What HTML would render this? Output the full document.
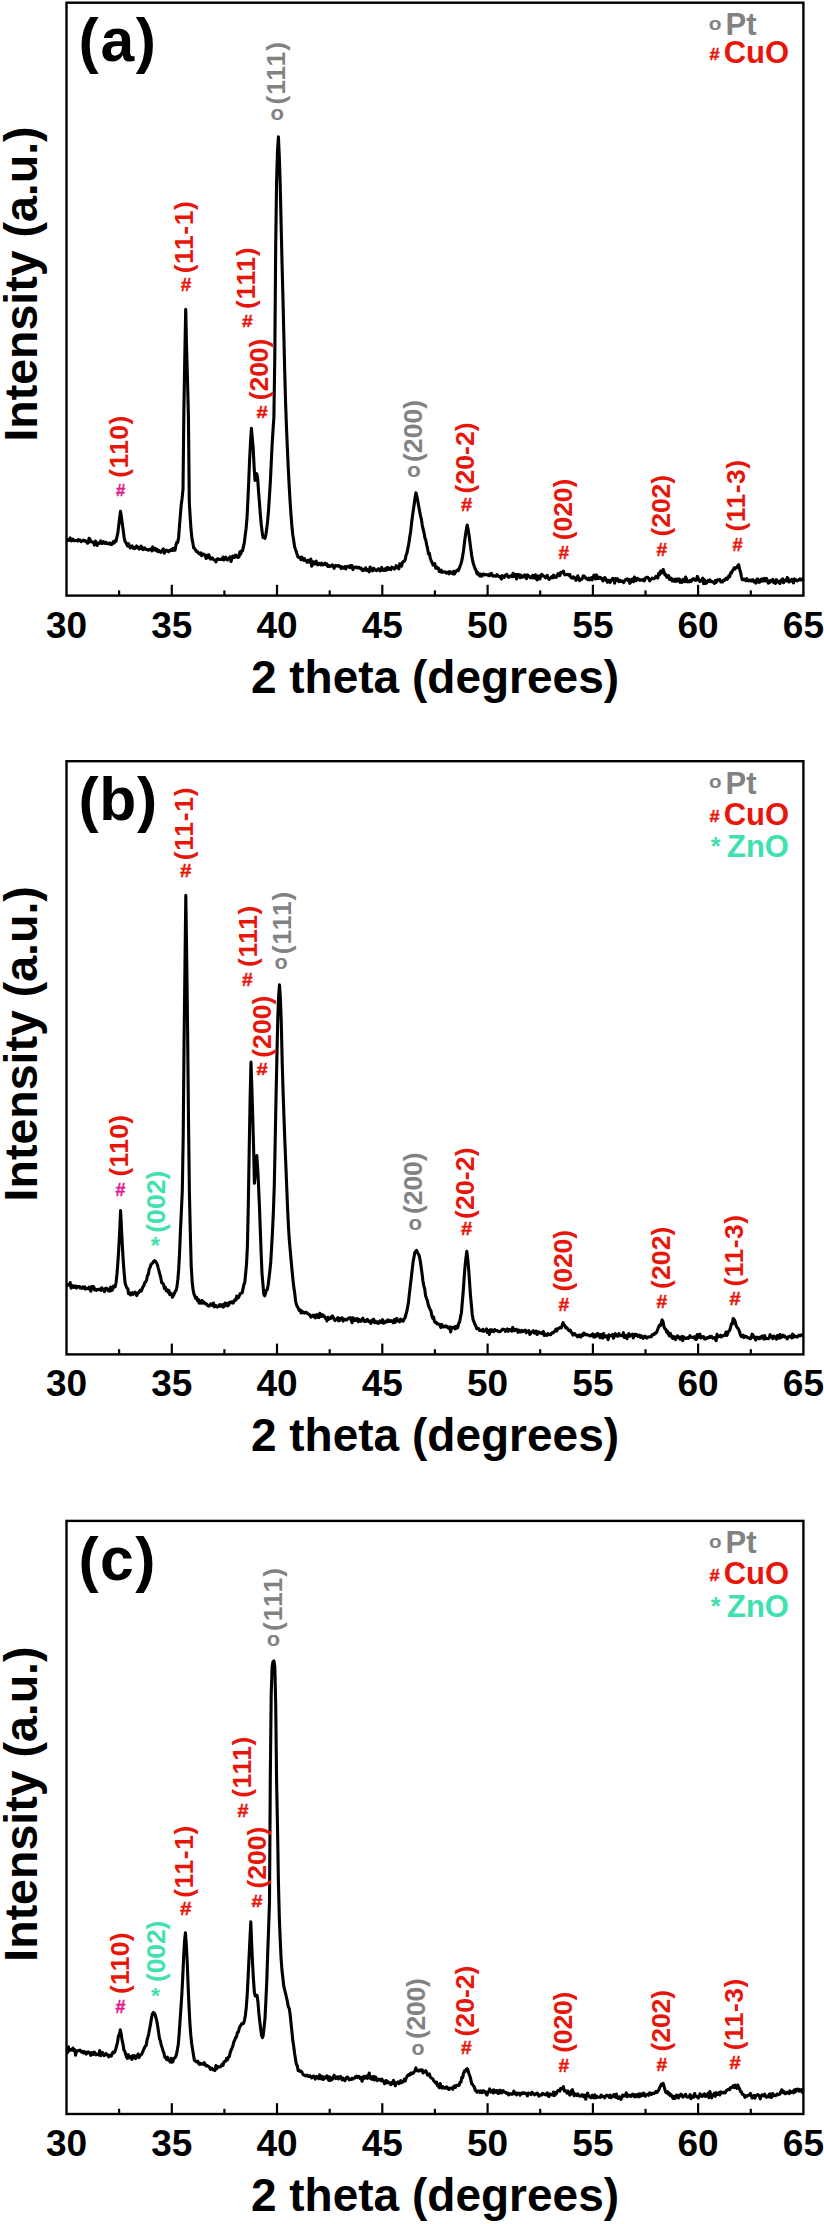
<!DOCTYPE html>
<html><head><meta charset="utf-8"><title>XRD patterns</title>
<style>
html,body{margin:0;padding:0;background:#fff;}
svg{display:block;}
text{font-family:'Liberation Sans', sans-serif;font-weight:bold;}
</style></head><body>
<svg width="824" height="2224" viewBox="0 0 824 2224">
<rect width="824" height="2224" fill="#fff"/>
<path d="M67.5,539.7 68.4,540.5 69.3,539.9 70.2,537.9 71.1,540.9 72.0,540.4 72.9,539.2 73.8,540.8 74.7,540.6 75.6,540.6 76.5,540.4 77.4,541.1 78.3,539.6 79.2,540.4 80.1,540.1 81.0,541.6 81.9,541.0 82.8,540.7 83.7,540.1 84.6,540.9 85.5,541.4 86.4,541.1 87.3,543.2 88.2,543.0 89.1,538.3 90.0,539.5 90.9,541.8 91.8,541.6 92.7,542.5 93.6,542.6 94.4,545.1 95.3,541.1 96.2,542.1 97.1,545.4 98.0,543.7 98.9,543.8 99.8,542.3 100.7,540.9 101.6,543.4 102.5,543.4 103.4,541.7 104.3,542.5 105.2,543.4 106.1,542.3 107.0,543.5 107.9,543.8 108.8,543.7 109.7,543.0 110.6,544.4 111.5,544.6 112.4,543.6 113.3,541.7 114.2,543.0 115.1,540.7 116.0,541.3 116.9,537.2 117.8,533.1 118.7,525.7 119.6,518.1 120.5,511.3 121.4,517.3 122.3,523.7 123.2,530.1 124.1,537.2 125.0,541.4 125.9,542.6 126.8,544.6 127.6,546.0 128.5,543.6 129.4,546.3 130.3,547.9 131.2,546.3 132.1,545.9 133.0,548.1 133.9,547.6 134.8,548.6 135.7,547.2 136.6,545.9 137.5,547.8 138.4,547.4 139.3,549.1 140.1,548.5 141.0,546.2 141.9,546.9 142.8,549.6 143.7,549.5 144.6,547.9 145.5,548.8 146.4,549.4 147.3,549.6 148.2,550.2 149.1,549.5 150.0,549.2 150.9,549.1 151.8,550.9 152.7,546.8 153.5,549.7 154.4,550.0 155.3,548.3 156.2,550.7 157.1,549.5 158.0,551.6 158.9,550.4 159.8,551.6 160.7,552.4 161.6,551.4 162.5,549.8 163.4,549.0 164.3,553.3 165.2,550.9 166.1,550.1 166.9,551.1 167.8,550.6 168.7,551.8 169.6,550.6 170.5,550.4 171.4,549.3 172.3,550.6 173.2,548.4 174.1,550.2 175.0,550.1 175.9,545.3 176.8,542.3 177.7,542.4 178.6,537.7 179.4,527.0 180.3,516.0 181.2,505.0 182.1,498.4 183.0,489.4 183.9,409.6 184.8,356.6 185.7,309.2 186.6,348.6 187.5,380.3 188.4,415.5 189.3,501.6 190.1,516.2 191.0,529.1 191.9,538.1 192.8,542.7 193.7,547.9 194.6,548.5 195.5,549.9 196.4,551.6 197.2,551.4 198.1,552.3 199.0,553.7 199.9,554.1 200.8,552.8 201.7,555.7 202.6,554.3 203.5,554.1 204.3,554.6 205.2,555.6 206.1,558.5 207.0,555.3 207.9,557.3 208.8,554.8 209.7,557.8 210.6,559.2 211.4,558.1 212.3,557.9 213.2,559.2 214.1,560.0 215.0,560.1 215.9,561.9 216.8,559.8 217.7,558.7 218.6,559.3 219.4,559.4 220.3,559.5 221.2,559.3 222.1,559.4 223.0,557.0 223.9,560.1 224.8,558.1 225.7,557.2 226.5,559.4 227.4,560.1 228.3,558.9 229.2,558.3 230.1,556.8 231.0,561.5 231.9,558.8 232.8,556.1 233.6,556.4 234.5,557.3 235.4,555.0 236.3,556.9 237.2,555.8 238.1,557.5 239.0,556.8 239.9,551.9 240.7,554.2 241.6,550.7 242.5,550.8 243.4,546.7 244.3,542.9 245.2,535.2 246.1,528.4 247.0,517.9 247.8,502.4 248.7,482.2 249.6,459.7 250.5,442.7 251.4,428.4 252.3,438.3 253.2,448.2 254.1,466.7 255.0,480.4 255.9,477.1 256.8,473.7 257.7,478.6 258.6,492.3 259.5,503.3 260.4,515.4 261.3,524.9 262.2,532.3 263.1,537.4 264.0,537.1 264.9,538.4 265.8,535.1 266.7,529.1 267.6,521.2 268.5,510.8 269.4,496.8 270.3,482.5 271.2,464.0 272.1,445.2 273.0,430.1 273.9,417.3 274.8,355.8 275.7,245.8 276.6,181.3 277.5,150.6 278.4,136.9 279.3,156.6 280.2,183.7 281.1,223.4 282.0,261.7 282.9,295.9 283.8,333.1 284.7,370.6 285.6,403.3 286.5,427.6 287.4,448.7 288.3,468.8 289.2,486.1 290.1,501.5 291.0,514.7 291.9,526.5 292.8,534.9 293.7,540.6 294.6,546.8 295.5,549.5 296.4,551.9 297.3,555.2 298.2,557.3 299.1,557.5 300.0,557.3 300.9,559.7 301.8,557.2 302.7,558.5 303.6,560.2 304.5,558.7 305.4,560.7 306.3,560.9 307.2,562.3 308.1,560.3 309.0,560.9 309.9,562.3 310.8,559.0 311.7,566.3 312.6,561.7 313.5,561.8 314.4,564.1 315.3,563.1 316.2,561.1 317.1,564.3 318.0,564.8 318.9,563.3 319.8,563.6 320.7,564.8 321.6,563.1 322.5,565.0 323.4,564.8 324.3,563.8 325.2,563.1 326.0,564.7 326.9,564.0 327.8,566.5 328.7,565.5 329.6,566.5 330.5,565.7 331.4,566.0 332.3,564.8 333.2,566.8 334.1,568.3 335.0,565.7 335.9,565.4 336.8,566.1 337.7,565.8 338.6,565.6 339.5,566.7 340.4,566.3 341.3,568.6 342.2,566.8 343.1,567.3 344.0,568.2 344.9,566.7 345.8,569.0 346.7,566.4 347.6,566.2 348.5,566.9 349.4,567.3 350.3,565.7 351.2,567.6 352.1,565.6 353.0,569.6 353.9,567.8 354.8,567.2 355.7,566.9 356.6,567.7 357.5,568.0 358.4,567.1 359.3,567.4 360.2,568.5 361.1,568.2 362.0,570.2 362.9,570.6 363.8,569.3 364.7,570.0 365.6,567.8 366.5,570.4 367.4,569.7 368.3,570.4 369.2,571.9 370.1,567.0 371.0,570.3 371.9,568.6 372.8,570.8 373.7,568.3 374.6,569.3 375.5,570.2 376.4,570.7 377.3,570.0 378.2,568.8 379.1,569.0 380.0,570.8 380.9,569.6 381.8,567.4 382.7,570.5 383.6,569.9 384.5,570.4 385.4,568.7 386.3,570.1 387.2,567.5 388.1,569.5 389.0,568.0 389.9,569.3 390.8,569.6 391.7,567.2 392.6,567.9 393.5,567.9 394.4,569.1 395.3,568.3 396.2,565.7 397.1,567.5 398.0,567.5 398.9,568.8 399.8,563.7 400.7,564.6 401.6,566.1 402.5,562.3 403.4,561.4 404.3,561.4 405.2,559.5 406.1,555.1 407.0,552.9 407.9,548.1 408.8,543.9 409.7,537.2 410.6,531.9 411.5,523.6 412.4,516.8 413.3,510.2 414.2,504.3 415.1,497.4 416.0,492.9 416.9,496.3 417.8,501.1 418.7,506.2 419.6,511.0 420.4,515.5 421.3,518.8 422.2,524.8 423.1,529.2 424.0,532.4 424.9,537.9 425.8,540.2 426.7,544.9 427.6,548.6 428.5,554.0 429.4,553.4 430.3,558.1 431.2,560.9 432.1,562.4 433.0,565.1 433.9,564.1 434.8,563.7 435.7,568.2 436.6,566.8 437.5,568.6 438.4,568.2 439.3,571.5 440.2,571.7 441.1,570.1 442.0,572.4 442.9,571.8 443.8,571.7 444.7,572.2 445.6,572.1 446.5,573.2 447.4,572.9 448.3,572.0 449.2,573.8 450.1,571.6 451.0,572.7 451.9,572.7 452.8,573.9 453.7,571.3 454.6,573.9 455.5,571.7 456.4,571.0 457.3,570.0 458.2,570.7 459.1,568.9 460.0,566.3 460.9,564.0 461.8,560.6 462.7,555.8 463.6,549.9 464.5,542.2 465.4,535.5 466.3,529.8 467.2,525.0 468.1,529.3 469.0,535.0 469.9,541.8 470.8,548.9 471.7,555.5 472.6,560.5 473.5,564.0 474.4,566.7 475.3,569.1 476.2,570.8 477.1,573.8 478.0,572.7 478.9,575.0 479.8,575.9 480.7,574.1 481.6,576.2 482.5,575.2 483.4,573.9 484.3,574.9 485.2,574.8 486.1,574.5 487.0,574.7 487.9,575.2 488.8,575.7 489.7,574.0 490.6,575.2 491.5,573.3 492.4,575.7 493.3,576.2 494.2,575.7 495.1,575.9 496.0,576.3 496.9,574.7 497.8,575.3 498.7,576.3 499.6,577.0 500.5,576.3 501.4,579.1 502.3,575.7 503.2,577.1 504.1,577.5 505.0,575.7 505.9,574.9 506.8,574.4 507.7,576.2 508.6,577.4 509.4,576.4 510.3,576.3 511.2,575.6 512.1,576.8 513.0,573.3 513.9,576.4 514.8,576.2 515.7,574.4 516.6,579.0 517.5,574.4 518.4,574.9 519.3,574.7 520.2,577.7 521.1,575.2 522.0,577.2 522.9,577.2 523.8,576.8 524.7,574.8 525.6,575.7 526.5,578.7 527.4,574.9 528.3,575.5 529.2,576.4 530.1,577.7 531.0,577.0 531.9,577.7 532.8,575.4 533.7,578.0 534.6,577.6 535.5,574.8 536.4,578.9 537.3,579.9 538.2,575.9 539.1,577.0 540.0,578.8 540.9,575.0 541.8,574.4 542.7,575.3 543.6,576.3 544.5,576.2 545.4,577.8 546.3,577.3 547.2,575.3 548.1,577.7 549.0,579.3 549.9,578.4 550.8,578.0 551.7,576.7 552.6,577.8 553.5,575.2 554.4,577.3 555.3,576.1 556.2,577.4 557.1,576.1 558.0,573.7 558.9,574.6 559.8,575.6 560.7,572.4 561.6,572.7 562.5,572.2 563.4,571.1 564.3,574.3 565.2,574.9 566.1,574.6 567.0,574.4 567.9,574.5 568.8,575.3 569.7,574.5 570.6,577.0 571.5,577.8 572.4,578.2 573.3,576.8 574.2,577.9 575.1,577.8 576.0,580.4 576.9,578.4 577.8,575.8 578.7,578.8 579.6,580.7 580.5,579.2 581.4,579.5 582.3,578.5 583.2,575.9 584.1,576.1 585.0,576.9 585.9,578.3 586.8,578.9 587.7,579.5 588.6,578.1 589.5,579.8 590.4,578.3 591.3,577.7 592.2,579.8 593.0,577.5 593.9,575.2 594.8,577.4 595.7,579.0 596.6,574.9 597.5,578.5 598.4,578.6 599.3,577.2 600.2,577.2 601.1,578.6 602.0,578.6 602.9,581.0 603.8,580.0 604.7,577.5 605.6,578.5 606.5,580.6 607.4,582.2 608.3,580.4 609.2,580.4 610.1,582.4 611.0,580.1 611.9,579.8 612.8,578.4 613.7,579.6 614.6,583.2 615.5,578.6 616.4,580.4 617.3,578.6 618.2,580.6 619.1,581.6 620.0,580.2 620.9,581.4 621.8,581.4 622.7,581.0 623.6,582.6 624.5,581.3 625.4,579.8 626.3,579.2 627.2,578.9 628.1,580.6 629.0,579.4 629.9,583.3 630.8,582.1 631.7,579.3 632.6,579.1 633.5,581.7 634.4,577.1 635.3,578.9 636.2,580.7 637.1,578.3 638.0,578.9 638.9,579.0 639.8,580.4 640.7,579.7 641.6,580.0 642.5,580.3 643.4,579.5 644.3,580.9 645.2,578.6 646.1,577.6 647.0,577.2 647.9,577.4 648.8,578.8 649.7,580.8 650.6,579.7 651.5,578.7 652.4,578.1 653.3,578.7 654.2,578.6 655.1,577.9 656.0,576.3 656.9,576.9 657.8,578.0 658.7,573.4 659.6,574.5 660.5,571.2 661.4,573.2 662.3,571.5 663.2,569.5 664.1,572.2 665.0,575.0 665.9,574.7 666.8,577.3 667.7,576.9 668.6,575.6 669.5,579.5 670.4,579.2 671.3,578.1 672.2,581.1 673.1,580.5 674.0,579.5 674.9,581.3 675.8,579.1 676.7,581.1 677.5,579.1 678.4,581.0 679.3,578.9 680.2,582.3 681.1,580.7 682.0,582.3 682.9,579.4 683.8,579.8 684.7,581.6 685.6,577.0 686.5,579.2 687.4,581.9 688.3,581.2 689.2,581.9 690.1,580.3 691.0,581.5 691.9,579.8 692.8,579.0 693.7,578.7 694.6,580.2 695.5,580.2 696.4,580.1 697.3,576.4 698.2,578.4 699.1,580.4 700.0,581.5 700.9,580.4 701.8,580.0 702.7,578.2 703.6,583.8 704.5,579.8 705.4,583.4 706.3,583.3 707.2,581.6 708.1,580.5 709.0,581.5 709.9,579.8 710.8,581.6 711.7,581.3 712.6,582.0 713.5,582.5 714.4,583.4 715.3,580.6 716.2,582.4 717.1,580.0 718.0,579.8 718.9,580.1 719.8,579.5 720.7,581.9 721.6,581.7 722.5,582.0 723.4,580.2 724.3,580.5 725.2,579.2 726.1,578.2 727.0,579.4 727.9,578.3 728.8,575.8 729.7,576.7 730.6,572.9 731.5,573.0 732.4,570.9 733.3,569.6 734.2,567.8 735.1,569.0 736.0,567.6 736.9,567.5 737.8,565.8 738.7,564.7 739.6,569.3 740.5,571.9 741.4,576.6 742.3,579.8 743.2,579.7 744.1,579.1 745.0,579.7 745.9,580.7 746.8,578.7 747.7,580.8 748.6,580.9 749.5,580.0 750.4,580.2 751.3,581.0 752.2,579.8 753.1,579.8 754.0,581.9 754.9,581.2 755.8,583.2 756.7,579.7 757.6,578.8 758.5,582.3 759.4,582.3 760.3,580.2 761.1,579.2 762.0,581.1 762.9,578.9 763.8,580.8 764.7,578.4 765.6,580.9 766.5,578.5 767.4,580.9 768.3,583.2 769.2,580.9 770.1,582.3 771.0,580.4 771.9,580.1 772.8,579.3 773.7,582.6 774.6,581.2 775.5,583.3 776.4,579.7 777.3,580.9 778.2,581.3 779.1,583.0 780.0,583.5 780.9,580.3 781.8,579.6 782.7,578.8 783.6,582.8 784.5,580.9 785.4,580.1 786.3,580.9 787.2,577.6 788.1,578.6 789.0,582.0 789.9,581.3 790.8,580.9 791.7,579.4 792.6,581.4 793.5,582.9 794.4,578.9 795.3,580.5 796.2,579.8 797.1,580.8 798.0,580.3 798.9,580.0 799.8,579.0 800.7,580.1 801.6,579.2 802.5,579.7" fill="none" stroke="#000" stroke-width="3.1" stroke-linejoin="round" stroke-linecap="round"/>
<rect x="66.5" y="2.7" width="736.9" height="592.9" fill="none" stroke="#000" stroke-width="2.4"/>
<line x1="171.8" y1="595.6" x2="171.8" y2="584.8" stroke="#000" stroke-width="2.2"/>
<line x1="277.0" y1="595.6" x2="277.0" y2="584.8" stroke="#000" stroke-width="2.2"/>
<line x1="382.3" y1="595.6" x2="382.3" y2="584.8" stroke="#000" stroke-width="2.2"/>
<line x1="487.6" y1="595.6" x2="487.6" y2="584.8" stroke="#000" stroke-width="2.2"/>
<line x1="592.9" y1="595.6" x2="592.9" y2="584.8" stroke="#000" stroke-width="2.2"/>
<line x1="698.1" y1="595.6" x2="698.1" y2="584.8" stroke="#000" stroke-width="2.2"/>
<line x1="119.1" y1="595.6" x2="119.1" y2="590.4" stroke="#000" stroke-width="2.2"/>
<line x1="224.4" y1="595.6" x2="224.4" y2="590.4" stroke="#000" stroke-width="2.2"/>
<line x1="329.7" y1="595.6" x2="329.7" y2="590.4" stroke="#000" stroke-width="2.2"/>
<line x1="434.9" y1="595.6" x2="434.9" y2="590.4" stroke="#000" stroke-width="2.2"/>
<line x1="540.2" y1="595.6" x2="540.2" y2="590.4" stroke="#000" stroke-width="2.2"/>
<line x1="645.5" y1="595.6" x2="645.5" y2="590.4" stroke="#000" stroke-width="2.2"/>
<line x1="750.8" y1="595.6" x2="750.8" y2="590.4" stroke="#000" stroke-width="2.2"/>
<text x="66.5" y="637.8" font-size="37" text-anchor="middle">30</text>
<text x="171.8" y="637.8" font-size="37" text-anchor="middle">35</text>
<text x="277.0" y="637.8" font-size="37" text-anchor="middle">40</text>
<text x="382.3" y="637.8" font-size="37" text-anchor="middle">45</text>
<text x="487.6" y="637.8" font-size="37" text-anchor="middle">50</text>
<text x="592.9" y="637.8" font-size="37" text-anchor="middle">55</text>
<text x="698.1" y="637.8" font-size="37" text-anchor="middle">60</text>
<text x="803.4" y="637.8" font-size="37" text-anchor="middle">65</text>
<text x="435" y="693.0" font-size="46" text-anchor="middle">2 theta (degrees)</text>
<text transform="translate(37,284.0) rotate(-90)" font-size="46.5" text-anchor="middle">Intensity (a.u.)</text>
<text x="78.5" y="61.2" font-size="60.6" letter-spacing="1.7">(a)</text>
<text transform="translate(708.7,29.6) scale(1.129,1)" font-size="18.5" fill="#828282">o</text>
<text x="725.5" y="35.0" font-size="31" fill="#828282">Pt</text>
<text transform="translate(709.6,60.4) scale(1.081,1)" font-size="16.7" fill="#e8150a" stroke="#e8150a" stroke-width="0.4">#</text>
<text x="723.7" y="62.9" font-size="31" fill="#e8150a">CuO</text>
<text transform="translate(128.0,477.8) rotate(-90)" font-size="26.5" textLength="62.2" lengthAdjust="spacing" fill="#e8150a">(110)</text>
<text transform="translate(116.0,495.7) scale(1.019,1)" font-size="16.4" fill="#e3198c" stroke="#e3198c" stroke-width="0.4">#</text>
<text transform="translate(193.2,273.3) rotate(-90)" font-size="26.5" textLength="72.2" lengthAdjust="spacing" fill="#e8150a">(11-1)</text>
<text transform="translate(180.7,291.0) scale(1.046,1)" font-size="18.2" fill="#e8150a" stroke="#e8150a" stroke-width="0.4">#</text>
<text transform="translate(255.4,309.0) rotate(-90)" font-size="26.5" textLength="61.6" lengthAdjust="spacing" fill="#e8150a">(111)</text>
<text transform="translate(242.1,326.7) scale(1.120,1)" font-size="17.2" fill="#e8150a" stroke="#e8150a" stroke-width="0.4">#</text>
<text transform="translate(268.4,400.3) rotate(-90)" font-size="26.5" textLength="61.7" lengthAdjust="spacing" fill="#e8150a">(200)</text>
<text transform="translate(256.6,418.0) scale(1.176,1)" font-size="17.2" fill="#e8150a" stroke="#e8150a" stroke-width="0.4">#</text>
<text transform="translate(284.8,104.6) rotate(-90)" font-size="26.5" textLength="62.7" lengthAdjust="spacing" fill="#828282">(111)</text>
<text transform="translate(270.6,119.9) scale(1.056,1)" font-size="20.9" fill="#828282">o</text>
<text transform="translate(421.6,462.0) rotate(-90)" font-size="26.5" textLength="62.1" lengthAdjust="spacing" fill="#828282">(200)</text>
<text transform="translate(407.1,476.8) scale(1.083,1)" font-size="20.9" fill="#828282">o</text>
<text transform="translate(474.4,493.5) rotate(-90)" font-size="26.5" textLength="71.1" lengthAdjust="spacing" fill="#e8150a">(20-2)</text>
<text transform="translate(460.9,510.7) scale(1.156,1)" font-size="17.5" fill="#e8150a" stroke="#e8150a" stroke-width="0.4">#</text>
<text transform="translate(572.0,540.3) rotate(-90)" font-size="26.5" textLength="61.7" lengthAdjust="spacing" fill="#e8150a">(020)</text>
<text transform="translate(558.4,559.0) scale(1.092,1)" font-size="17.6" fill="#e8150a" stroke="#e8150a" stroke-width="0.4">#</text>
<text transform="translate(670.0,536.5) rotate(-90)" font-size="26.5" textLength="61.6" lengthAdjust="spacing" fill="#e8150a">(202)</text>
<text transform="translate(656.6,555.7) scale(1.101,1)" font-size="17.5" fill="#e8150a" stroke="#e8150a" stroke-width="0.4">#</text>
<text transform="translate(745.0,531.5) rotate(-90)" font-size="26.5" textLength="71.6" lengthAdjust="spacing" fill="#e8150a">(11-3)</text>
<text transform="translate(732.6,550.7) scale(1.046,1)" font-size="17.5" fill="#e8150a" stroke="#e8150a" stroke-width="0.4">#</text>
<path d="M67.5,1285.2 68.4,1284.5 69.3,1284.9 70.2,1282.5 71.1,1288.1 72.0,1287.4 72.9,1285.7 73.8,1287.3 74.7,1286.8 75.6,1286.0 76.5,1288.1 77.4,1286.6 78.3,1286.7 79.2,1286.3 80.1,1288.0 81.0,1287.4 81.9,1288.4 82.8,1287.0 83.7,1288.0 84.6,1286.8 85.5,1289.1 86.4,1288.4 87.3,1288.6 88.2,1288.8 89.1,1287.1 90.0,1289.5 90.9,1291.2 91.8,1286.5 92.7,1286.5 93.6,1286.8 94.5,1289.9 95.4,1289.1 96.3,1290.3 97.2,1289.9 98.1,1289.3 99.0,1289.5 99.9,1289.0 100.8,1290.4 101.7,1287.8 102.6,1288.8 103.5,1289.7 104.4,1291.7 105.3,1288.4 106.2,1288.1 107.1,1288.7 108.0,1290.7 108.9,1289.2 109.8,1291.2 110.7,1287.1 111.6,1290.5 112.5,1289.8 113.4,1286.2 114.3,1287.0 115.2,1286.7 116.1,1282.2 117.0,1273.5 117.9,1262.4 118.8,1248.0 119.7,1230.9 120.6,1210.5 121.5,1229.3 122.4,1246.3 123.3,1261.9 124.2,1273.5 125.1,1283.0 126.0,1285.8 126.9,1287.9 127.8,1288.8 128.6,1293.8 129.5,1292.9 130.4,1295.0 131.3,1293.3 132.2,1292.6 133.1,1294.3 134.0,1293.7 134.9,1292.2 135.8,1292.6 136.7,1295.6 137.6,1293.4 138.5,1292.9 139.4,1291.4 140.3,1290.1 141.2,1291.2 142.1,1289.0 142.9,1286.9 143.8,1285.7 144.7,1282.9 145.6,1281.9 146.5,1280.5 147.4,1275.7 148.3,1274.4 149.2,1269.2 150.1,1267.3 151.0,1264.5 151.9,1263.7 152.8,1262.7 153.7,1261.3 154.6,1260.6 155.5,1261.4 156.4,1262.9 157.2,1264.1 158.1,1267.6 159.0,1270.8 159.9,1274.5 160.8,1277.7 161.7,1282.6 162.6,1283.1 163.5,1284.3 164.4,1288.5 165.3,1287.1 166.2,1290.7 167.1,1289.7 168.0,1292.2 168.9,1290.4 169.8,1294.6 170.7,1294.1 171.5,1293.6 172.4,1297.2 173.3,1295.7 174.2,1293.9 175.1,1291.7 176.0,1290.6 176.9,1287.1 177.8,1279.9 178.7,1269.2 179.6,1252.2 180.5,1229.9 181.4,1210.7 182.3,1190.7 183.2,1136.5 184.1,1038.4 185.0,963.0 185.8,895.3 186.7,957.6 187.6,1029.5 188.5,1120.2 189.4,1192.7 190.3,1231.6 191.2,1265.5 192.1,1280.8 193.0,1289.4 193.9,1293.8 194.8,1295.9 195.7,1298.4 196.6,1297.3 197.5,1300.6 198.3,1299.4 199.2,1303.1 200.1,1301.1 201.0,1303.2 201.9,1300.5 202.8,1303.2 203.7,1301.9 204.6,1302.8 205.5,1303.9 206.4,1303.8 207.3,1304.9 208.2,1305.9 209.1,1306.1 209.9,1305.4 210.8,1303.9 211.7,1304.7 212.6,1305.5 213.5,1303.0 214.4,1306.8 215.3,1305.5 216.2,1305.5 217.1,1307.0 218.0,1306.7 218.9,1306.1 219.8,1304.5 220.7,1306.2 221.5,1306.3 222.4,1304.7 223.3,1307.1 224.2,1306.3 225.1,1303.0 226.0,1305.3 226.9,1303.3 227.8,1305.9 228.7,1305.0 229.6,1302.2 230.5,1302.0 231.4,1302.6 232.3,1301.6 233.2,1303.1 234.0,1301.6 234.9,1299.7 235.8,1300.1 236.7,1296.2 237.6,1298.1 238.5,1297.7 239.4,1295.4 240.3,1293.5 241.2,1293.3 242.1,1292.9 243.0,1288.8 243.9,1284.5 244.8,1282.5 245.6,1274.0 246.5,1264.3 247.4,1246.5 248.3,1205.4 249.2,1150.2 250.1,1099.6 251.0,1062.0 251.8,1086.9 252.7,1115.4 253.6,1147.6 254.4,1183.3 255.2,1174.1 256.0,1164.9 256.8,1155.6 257.7,1168.7 258.5,1184.9 259.4,1205.1 260.3,1229.7 261.2,1254.3 262.0,1273.7 262.9,1283.8 263.8,1294.2 264.7,1295.8 265.5,1293.4 266.4,1289.9 267.3,1289.6 268.1,1285.2 269.0,1278.4 269.9,1270.3 270.8,1261.4 271.6,1247.4 272.5,1231.0 273.4,1211.4 274.3,1185.1 275.1,1145.8 276.0,1099.2 276.9,1056.9 277.8,1017.7 278.6,996.7 279.5,984.9 280.4,998.8 281.3,1023.1 282.2,1062.3 283.1,1092.0 284.0,1118.1 284.9,1142.3 285.8,1164.3 286.7,1186.4 287.6,1208.8 288.5,1227.5 289.4,1241.0 290.3,1251.2 291.2,1261.3 292.0,1269.8 292.9,1279.3 293.8,1287.1 294.7,1293.1 295.6,1301.0 296.5,1305.0 297.4,1306.6 298.3,1308.3 299.2,1310.5 300.1,1309.9 301.0,1312.9 301.9,1311.2 302.8,1312.7 303.7,1312.2 304.6,1313.2 305.5,1312.4 306.4,1312.3 307.3,1313.3 308.2,1313.8 309.1,1314.5 310.0,1315.1 310.9,1317.1 311.8,1316.4 312.7,1315.2 313.6,1316.6 314.5,1315.0 315.3,1317.9 316.2,1316.9 317.1,1314.6 318.0,1317.4 318.9,1317.6 319.8,1313.3 320.7,1315.9 321.6,1316.4 322.5,1314.6 323.4,1315.9 324.3,1316.1 325.2,1318.1 326.1,1318.0 327.0,1321.0 327.9,1317.3 328.8,1319.4 329.7,1318.1 330.6,1318.4 331.5,1316.7 332.4,1315.8 333.3,1317.3 334.2,1319.4 335.1,1320.5 336.0,1319.4 336.9,1319.3 337.8,1317.7 338.6,1320.8 339.5,1320.6 340.4,1318.3 341.3,1319.0 342.2,1317.8 343.1,1321.1 344.0,1319.8 344.9,1319.2 345.8,1319.9 346.7,1320.0 347.6,1319.0 348.5,1318.0 349.4,1318.0 350.3,1317.5 351.2,1320.3 352.1,1322.7 353.0,1317.7 353.9,1320.1 354.8,1320.5 355.7,1318.8 356.6,1320.4 357.5,1318.7 358.4,1321.8 359.3,1319.5 360.2,1320.5 361.1,1321.3 361.9,1319.9 362.8,1318.2 363.7,1319.9 364.6,1321.6 365.5,1320.6 366.4,1321.1 367.3,1319.4 368.2,1321.1 369.1,1321.9 370.0,1321.0 370.9,1323.5 371.8,1320.8 372.7,1319.8 373.6,1319.1 374.5,1322.7 375.4,1321.2 376.3,1322.6 377.2,1321.9 378.1,1323.4 379.0,1322.9 379.9,1320.8 380.8,1321.7 381.7,1322.7 382.6,1319.7 383.5,1323.2 384.4,1322.9 385.2,1322.6 386.1,1321.0 387.0,1321.7 387.9,1319.8 388.8,1321.4 389.7,1320.5 390.6,1321.4 391.5,1320.7 392.4,1321.7 393.3,1322.8 394.2,1319.6 395.1,1322.5 396.0,1318.7 396.9,1318.5 397.8,1321.1 398.7,1321.3 399.6,1321.9 400.5,1319.2 401.4,1320.9 402.3,1320.6 403.2,1321.1 404.1,1318.6 405.0,1318.1 405.9,1314.5 406.8,1311.5 407.7,1306.6 408.5,1302.0 409.4,1293.6 410.3,1285.8 411.2,1278.4 412.1,1270.3 413.0,1262.6 413.9,1257.6 414.8,1252.6 415.7,1251.3 416.6,1250.3 417.5,1252.8 418.4,1253.9 419.3,1256.0 420.2,1260.6 421.1,1266.7 422.0,1273.3 422.9,1280.7 423.8,1285.6 424.7,1288.9 425.6,1295.8 426.5,1298.4 427.4,1300.7 428.3,1305.0 429.2,1307.4 430.1,1309.4 431.0,1311.1 431.8,1315.6 432.7,1318.3 433.6,1317.0 434.5,1321.6 435.4,1322.7 436.3,1322.4 437.2,1323.9 438.1,1324.1 439.0,1324.0 439.9,1325.0 440.8,1327.5 441.7,1324.4 442.6,1326.8 443.5,1327.0 444.4,1326.2 445.3,1326.8 446.2,1325.8 447.1,1326.6 448.0,1327.9 448.9,1328.4 449.8,1326.8 450.7,1331.9 451.6,1327.2 452.5,1328.0 453.4,1327.4 454.3,1327.0 455.1,1328.9 456.0,1326.3 456.9,1328.2 457.8,1327.3 458.7,1323.2 459.6,1322.1 460.5,1316.9 461.4,1313.0 462.3,1302.2 463.2,1292.0 464.1,1278.6 465.0,1266.7 465.9,1258.1 466.8,1251.3 467.7,1258.4 468.6,1268.3 469.5,1281.0 470.4,1294.5 471.3,1303.8 472.2,1314.2 473.1,1319.6 474.0,1321.9 474.9,1324.2 475.8,1326.0 476.7,1328.7 477.6,1328.3 478.5,1328.5 479.4,1330.4 480.3,1330.4 481.2,1330.1 482.1,1331.0 483.0,1329.4 483.9,1331.3 484.8,1331.1 485.7,1330.0 486.6,1328.9 487.5,1332.5 488.4,1330.6 489.3,1334.5 490.2,1329.7 491.1,1331.6 492.0,1329.9 492.9,1330.8 493.8,1331.6 494.7,1329.5 495.6,1330.4 496.5,1330.7 497.4,1330.6 498.3,1331.3 499.2,1331.8 500.1,1331.6 501.0,1330.8 501.9,1330.0 502.8,1329.0 503.7,1329.5 504.6,1329.8 505.5,1331.4 506.4,1330.0 507.3,1328.9 508.2,1331.3 509.1,1329.5 510.0,1329.5 510.9,1330.2 511.8,1331.1 512.7,1327.4 513.6,1329.0 514.5,1330.7 515.4,1330.0 516.3,1329.4 517.2,1329.9 518.1,1332.4 519.0,1330.1 519.9,1331.7 520.8,1331.9 521.7,1330.4 522.6,1331.7 523.5,1330.7 524.4,1330.6 525.3,1330.1 526.2,1332.8 527.1,1331.3 528.0,1331.2 528.9,1330.6 529.8,1334.5 530.7,1333.3 531.6,1332.2 532.5,1331.6 533.4,1330.6 534.3,1333.0 535.2,1333.1 536.1,1331.0 537.0,1334.4 537.9,1334.0 538.8,1331.9 539.7,1332.5 540.6,1332.7 541.5,1333.6 542.4,1333.3 543.3,1331.4 544.2,1335.5 545.1,1334.0 546.0,1335.3 546.9,1335.4 547.8,1333.5 548.7,1334.2 549.6,1334.8 550.5,1334.8 551.4,1333.4 552.3,1332.6 553.2,1333.0 554.1,1331.6 555.0,1331.4 555.9,1329.1 556.8,1331.0 557.7,1328.9 558.6,1328.4 559.5,1328.0 560.4,1327.4 561.3,1328.0 562.2,1325.1 563.1,1322.7 564.0,1325.2 564.9,1325.5 565.8,1327.9 566.7,1327.6 567.6,1328.7 568.5,1330.0 569.4,1330.8 570.3,1330.2 571.2,1332.1 572.1,1333.3 573.0,1335.1 573.9,1333.5 574.8,1333.7 575.7,1335.1 576.6,1335.2 577.5,1336.8 578.4,1335.6 579.3,1334.9 580.2,1336.7 581.1,1337.0 582.0,1334.5 582.9,1335.4 583.8,1333.0 584.7,1334.7 585.6,1334.1 586.5,1335.0 587.4,1334.7 588.3,1335.1 589.2,1335.2 590.1,1336.0 591.0,1335.7 591.9,1334.7 592.8,1333.8 593.7,1337.1 594.6,1337.3 595.5,1334.9 596.4,1336.3 597.3,1333.6 598.2,1333.7 599.1,1335.4 600.0,1337.7 600.9,1334.5 601.8,1334.9 602.7,1338.1 603.6,1333.6 604.5,1336.9 605.4,1336.8 606.3,1335.9 607.2,1336.5 608.1,1339.7 609.0,1334.8 609.9,1335.9 610.8,1336.0 611.7,1335.4 612.6,1334.5 613.5,1338.2 614.4,1336.3 615.3,1333.7 616.2,1334.9 617.1,1336.2 618.0,1336.1 618.9,1333.6 619.8,1335.2 620.7,1335.6 621.6,1335.7 622.5,1335.6 623.4,1332.7 624.3,1337.4 625.2,1335.3 626.1,1337.4 627.0,1338.7 627.9,1334.9 628.8,1333.6 629.7,1336.3 630.6,1335.1 631.5,1334.8 632.4,1334.2 633.3,1337.8 634.2,1335.2 635.1,1334.1 636.0,1335.4 636.9,1334.6 637.8,1336.4 638.7,1335.8 639.6,1335.1 640.5,1337.3 641.4,1335.8 642.3,1337.7 643.2,1338.4 644.1,1336.4 645.0,1336.1 645.9,1337.2 646.8,1338.2 647.7,1337.0 648.6,1337.1 649.5,1336.7 650.4,1336.8 651.3,1336.8 652.2,1334.7 653.1,1334.5 654.0,1334.6 654.9,1333.1 655.8,1333.1 656.7,1332.1 657.6,1329.8 658.5,1327.4 659.4,1325.4 660.3,1325.7 661.2,1323.0 662.1,1319.9 663.0,1321.6 663.9,1326.6 664.8,1328.6 665.7,1329.1 666.6,1332.1 667.5,1331.1 668.4,1334.1 669.3,1335.8 670.2,1333.3 671.1,1335.2 672.0,1337.6 672.9,1338.5 673.8,1336.6 674.7,1337.9 675.6,1339.6 676.5,1337.0 677.4,1335.8 678.3,1337.4 679.2,1337.0 680.1,1339.2 681.0,1337.7 681.9,1336.5 682.8,1340.6 683.7,1336.8 684.6,1338.1 685.5,1338.4 686.4,1338.5 687.3,1337.7 688.2,1338.3 689.1,1337.4 690.0,1335.7 690.9,1337.2 691.8,1337.2 692.7,1337.3 693.6,1337.7 694.5,1336.7 695.4,1339.2 696.3,1339.5 697.2,1334.6 698.1,1337.5 699.0,1336.6 699.9,1334.1 700.8,1338.0 701.7,1336.7 702.6,1337.0 703.5,1336.6 704.4,1338.9 705.3,1339.1 706.2,1337.8 707.1,1338.3 708.0,1337.3 708.9,1337.6 709.8,1336.4 710.7,1337.4 711.6,1336.4 712.5,1337.8 713.4,1338.3 714.3,1337.6 715.2,1338.7 716.1,1340.7 717.0,1334.4 717.9,1337.1 718.8,1336.3 719.7,1336.4 720.6,1335.2 721.5,1336.9 722.4,1336.2 723.3,1335.5 724.2,1335.5 725.1,1334.7 726.0,1332.0 726.9,1335.5 727.8,1333.2 728.7,1331.2 729.6,1330.7 730.5,1327.5 731.4,1323.9 732.3,1323.9 733.2,1318.5 734.1,1319.3 735.0,1321.2 735.9,1324.8 736.8,1327.0 737.7,1328.1 738.6,1329.4 739.5,1331.8 740.4,1334.9 741.3,1336.6 742.2,1335.9 743.1,1335.1 744.0,1337.6 744.9,1336.3 745.8,1336.4 746.7,1336.7 747.6,1337.8 748.5,1337.5 749.4,1338.4 750.3,1338.8 751.2,1337.9 752.1,1334.2 753.0,1335.1 753.9,1337.5 754.8,1337.2 755.7,1340.1 756.6,1337.3 757.5,1337.2 758.4,1338.6 759.3,1338.8 760.2,1337.1 761.1,1338.0 762.0,1336.0 762.9,1336.2 763.8,1339.1 764.7,1335.6 765.6,1338.7 766.5,1338.4 767.4,1338.5 768.3,1338.7 769.2,1338.2 770.1,1334.7 771.0,1336.2 771.9,1336.7 772.8,1338.7 773.7,1336.0 774.6,1336.6 775.5,1337.0 776.4,1339.2 777.3,1335.6 778.2,1335.7 779.1,1338.2 780.0,1334.6 780.9,1337.7 781.8,1336.7 782.7,1335.2 783.6,1336.6 784.5,1335.8 785.4,1337.3 786.3,1337.5 787.2,1338.9 788.1,1336.8 789.0,1336.9 789.9,1336.0 790.8,1336.6 791.7,1337.9 792.6,1334.0 793.5,1337.3 794.4,1335.7 795.3,1336.4 796.2,1336.6 797.1,1337.1 798.0,1336.2 798.9,1335.2 799.8,1335.9 800.7,1335.4 801.6,1334.9 802.5,1335.3" fill="none" stroke="#000" stroke-width="3.1" stroke-linejoin="round" stroke-linecap="round"/>
<rect x="66.5" y="761.2" width="736.9" height="593.2" fill="none" stroke="#000" stroke-width="2.4"/>
<line x1="171.8" y1="1354.4" x2="171.8" y2="1343.6" stroke="#000" stroke-width="2.2"/>
<line x1="277.0" y1="1354.4" x2="277.0" y2="1343.6" stroke="#000" stroke-width="2.2"/>
<line x1="382.3" y1="1354.4" x2="382.3" y2="1343.6" stroke="#000" stroke-width="2.2"/>
<line x1="487.6" y1="1354.4" x2="487.6" y2="1343.6" stroke="#000" stroke-width="2.2"/>
<line x1="592.9" y1="1354.4" x2="592.9" y2="1343.6" stroke="#000" stroke-width="2.2"/>
<line x1="698.1" y1="1354.4" x2="698.1" y2="1343.6" stroke="#000" stroke-width="2.2"/>
<line x1="119.1" y1="1354.4" x2="119.1" y2="1349.2" stroke="#000" stroke-width="2.2"/>
<line x1="224.4" y1="1354.4" x2="224.4" y2="1349.2" stroke="#000" stroke-width="2.2"/>
<line x1="329.7" y1="1354.4" x2="329.7" y2="1349.2" stroke="#000" stroke-width="2.2"/>
<line x1="434.9" y1="1354.4" x2="434.9" y2="1349.2" stroke="#000" stroke-width="2.2"/>
<line x1="540.2" y1="1354.4" x2="540.2" y2="1349.2" stroke="#000" stroke-width="2.2"/>
<line x1="645.5" y1="1354.4" x2="645.5" y2="1349.2" stroke="#000" stroke-width="2.2"/>
<line x1="750.8" y1="1354.4" x2="750.8" y2="1349.2" stroke="#000" stroke-width="2.2"/>
<text x="66.5" y="1396.3" font-size="37" text-anchor="middle">30</text>
<text x="171.8" y="1396.3" font-size="37" text-anchor="middle">35</text>
<text x="277.0" y="1396.3" font-size="37" text-anchor="middle">40</text>
<text x="382.3" y="1396.3" font-size="37" text-anchor="middle">45</text>
<text x="487.6" y="1396.3" font-size="37" text-anchor="middle">50</text>
<text x="592.9" y="1396.3" font-size="37" text-anchor="middle">55</text>
<text x="698.1" y="1396.3" font-size="37" text-anchor="middle">60</text>
<text x="803.4" y="1396.3" font-size="37" text-anchor="middle">65</text>
<text x="435" y="1451.2" font-size="46" text-anchor="middle">2 theta (degrees)</text>
<text transform="translate(37,1043.8) rotate(-90)" font-size="46.5" text-anchor="middle">Intensity (a.u.)</text>
<text x="78.5" y="819.9" font-size="60.6" letter-spacing="0.65">(b)</text>
<text transform="translate(708.9,788.1) scale(1.109,1)" font-size="18.5" fill="#828282">o</text>
<text x="725.5" y="793.6" font-size="31" fill="#828282">Pt</text>
<text transform="translate(709.6,821.6) scale(1.053,1)" font-size="17.2" fill="#e8150a" stroke="#e8150a" stroke-width="0.4">#</text>
<text x="723.7" y="824.8" font-size="31" fill="#e8150a">CuO</text>
<text transform="translate(710.8,854.6) scale(1.000,1)" font-size="25.1" fill="#40e0b0">*</text>
<text x="727.0" y="857.2" font-size="31" fill="#40e0b0">ZnO</text>
<text transform="translate(128.2,1176.5) rotate(-90)" font-size="26.5" textLength="61.6" lengthAdjust="spacing" fill="#e8150a">(110)</text>
<text transform="translate(115.4,1195.7) scale(1.013,1)" font-size="17.5" fill="#e3198c" stroke="#e3198c" stroke-width="0.4">#</text>
<text transform="translate(164.9,1232.8) rotate(-90)" font-size="26.5" textLength="62.2" lengthAdjust="spacing" fill="#40e0b0">(002)</text>
<text transform="translate(150.8,1254.0) scale(1.000,1)" font-size="23.4" fill="#40e0b0">*</text>
<text transform="translate(193.2,860.3) rotate(-90)" font-size="26.5" textLength="72.9" lengthAdjust="spacing" fill="#e8150a">(11-1)</text>
<text transform="translate(180.1,877.2) scale(1.160,1)" font-size="17.9" fill="#e8150a" stroke="#e8150a" stroke-width="0.4">#</text>
<text transform="translate(256.6,967.0) rotate(-90)" font-size="26.5" textLength="61.4" lengthAdjust="spacing" fill="#e8150a">(111)</text>
<text transform="translate(242.1,985.7) scale(1.101,1)" font-size="17.5" fill="#e8150a" stroke="#e8150a" stroke-width="0.4">#</text>
<text transform="translate(271.2,1057.8) rotate(-90)" font-size="26.5" textLength="62.2" lengthAdjust="spacing" fill="#e8150a">(200)</text>
<text transform="translate(256.6,1075.2) scale(1.208,1)" font-size="16.7" fill="#e8150a" stroke="#e8150a" stroke-width="0.4">#</text>
<text transform="translate(290.6,954.3) rotate(-90)" font-size="26.5" textLength="62.7" lengthAdjust="spacing" fill="#828282">(111)</text>
<text transform="translate(274.6,969.0) scale(1.038,1)" font-size="20.9" fill="#828282">o</text>
<text transform="translate(422.4,1214.0) rotate(-90)" font-size="26.5" textLength="61.6" lengthAdjust="spacing" fill="#828282">(200)</text>
<text transform="translate(408.6,1229.8) scale(1.093,1)" font-size="20.4" fill="#828282">o</text>
<text transform="translate(474.4,1219.0) rotate(-90)" font-size="26.5" textLength="71.6" lengthAdjust="spacing" fill="#e8150a">(20-2)</text>
<text transform="translate(460.9,1234.7) scale(1.127,1)" font-size="17.9" fill="#e8150a" stroke="#e8150a" stroke-width="0.4">#</text>
<text transform="translate(572.0,1291.5) rotate(-90)" font-size="26.5" textLength="61.6" lengthAdjust="spacing" fill="#e8150a">(020)</text>
<text transform="translate(558.4,1310.7) scale(1.101,1)" font-size="17.5" fill="#e8150a" stroke="#e8150a" stroke-width="0.4">#</text>
<text transform="translate(670.0,1289.0) rotate(-90)" font-size="26.5" textLength="62.4" lengthAdjust="spacing" fill="#e8150a">(202)</text>
<text transform="translate(656.6,1308.2) scale(1.101,1)" font-size="17.5" fill="#e8150a" stroke="#e8150a" stroke-width="0.4">#</text>
<text transform="translate(742.5,1286.5) rotate(-90)" font-size="26.5" textLength="71.6" lengthAdjust="spacing" fill="#e8150a">(11-3)</text>
<text transform="translate(729.6,1305.2) scale(1.127,1)" font-size="17.9" fill="#e8150a" stroke="#e8150a" stroke-width="0.4">#</text>
<path d="M67.5,2052.6 68.4,2046.8 69.3,2050.7 70.2,2049.6 71.1,2049.8 72.0,2050.2 72.9,2048.0 73.8,2050.4 74.7,2049.7 75.6,2055.2 76.4,2051.3 77.3,2050.7 78.2,2050.9 79.1,2050.5 80.0,2050.1 80.9,2051.0 81.8,2052.2 82.7,2051.4 83.6,2053.1 84.5,2051.7 85.4,2052.1 86.3,2054.1 87.2,2053.0 88.1,2051.8 89.0,2052.3 89.9,2053.4 90.8,2055.3 91.7,2052.6 92.6,2052.8 93.5,2054.5 94.3,2052.2 95.2,2053.1 96.1,2054.8 97.0,2054.5 97.9,2054.0 98.8,2054.9 99.7,2050.6 100.6,2055.6 101.5,2053.2 102.4,2052.4 103.3,2055.0 104.2,2055.6 105.1,2054.2 106.0,2053.5 106.9,2054.9 107.8,2054.9 108.7,2056.8 109.6,2056.0 110.5,2055.2 111.4,2056.0 112.2,2053.8 113.1,2052.1 114.0,2052.8 114.9,2051.5 115.8,2049.1 116.7,2045.3 117.6,2041.9 118.5,2035.7 119.4,2034.5 120.3,2029.8 121.2,2034.1 122.1,2040.4 123.0,2044.1 123.9,2050.1 124.8,2051.3 125.7,2054.2 126.5,2057.0 127.4,2058.4 128.3,2054.7 129.2,2056.9 130.1,2057.9 131.0,2056.6 131.9,2059.4 132.8,2055.7 133.7,2057.5 134.6,2055.6 135.5,2058.6 136.4,2056.5 137.2,2055.9 138.1,2054.0 139.0,2057.6 139.9,2055.8 140.8,2054.9 141.7,2054.2 142.6,2052.2 143.5,2049.8 144.4,2048.1 145.3,2046.0 146.2,2045.4 147.1,2039.7 147.9,2037.2 148.8,2033.3 149.7,2028.5 150.6,2023.6 151.5,2018.1 152.4,2013.9 153.3,2012.5 154.2,2013.1 155.1,2014.5 156.0,2017.8 156.9,2021.4 157.8,2027.1 158.6,2032.5 159.5,2038.5 160.4,2041.0 161.3,2045.1 162.2,2047.9 163.1,2051.2 164.0,2053.2 164.9,2057.5 165.8,2058.0 166.7,2059.6 167.6,2057.1 168.5,2060.1 169.3,2060.4 170.2,2062.0 171.1,2058.3 172.0,2062.3 172.9,2061.7 173.8,2058.3 174.7,2058.0 175.6,2056.9 176.5,2054.2 177.4,2049.6 178.3,2044.3 179.2,2033.3 180.0,2021.7 180.9,2008.7 181.8,1995.2 182.7,1978.2 183.6,1957.8 184.5,1942.0 185.4,1932.7 186.3,1944.6 187.2,1962.0 188.1,1985.0 189.0,2005.7 189.9,2023.1 190.8,2035.2 191.7,2043.7 192.6,2049.6 193.5,2055.1 194.4,2060.6 195.3,2060.8 196.2,2061.8 197.0,2061.3 197.9,2061.3 198.8,2063.8 199.7,2064.4 200.6,2063.4 201.5,2064.0 202.4,2063.9 203.3,2064.3 204.2,2062.7 205.1,2064.5 206.0,2065.8 206.9,2065.3 207.8,2066.3 208.7,2066.4 209.6,2067.5 210.5,2069.4 211.4,2068.1 212.3,2068.6 213.2,2069.8 214.1,2069.4 215.0,2070.5 215.9,2065.5 216.8,2068.7 217.7,2066.6 218.5,2066.8 219.4,2067.0 220.3,2066.7 221.2,2066.0 222.1,2064.3 223.0,2065.3 223.9,2062.2 224.8,2061.3 225.7,2061.2 226.6,2058.4 227.5,2059.9 228.4,2057.1 229.3,2056.6 230.2,2052.6 231.1,2050.1 232.0,2048.1 232.9,2045.9 233.8,2041.9 234.7,2040.2 235.6,2037.6 236.5,2037.0 237.4,2032.5 238.3,2032.2 239.2,2028.5 240.0,2026.4 240.9,2025.2 241.8,2023.5 242.7,2023.9 243.6,2023.2 244.5,2020.1 245.4,2015.2 246.3,2007.0 247.2,1995.1 248.1,1977.4 249.0,1958.2 249.9,1939.6 250.8,1921.9 251.7,1944.5 252.6,1964.2 253.5,1980.2 254.4,1992.3 255.2,1995.9 256.1,1995.6 257.0,1995.3 257.9,2001.4 258.8,2012.4 259.7,2020.8 260.6,2028.3 261.5,2034.9 262.4,2037.7 263.2,2035.4 264.1,2027.2 265.0,2018.3 265.9,2000.7 266.8,1980.4 267.7,1953.2 268.6,1928.5 269.5,1902.2 270.3,1778.2 271.2,1694.5 272.1,1667.0 273.0,1661.6 273.9,1660.9 274.8,1666.6 275.7,1703.9 276.6,1781.7 277.5,1826.5 278.4,1881.3 279.3,1916.8 280.2,1939.4 281.1,1958.5 282.0,1970.5 282.9,1978.3 283.8,1986.2 284.7,1990.2 285.6,1993.5 286.5,1997.6 287.4,2001.5 288.3,2006.7 289.2,2008.2 290.1,2014.2 291.0,2023.0 291.9,2031.4 292.8,2040.6 293.7,2046.2 294.6,2053.5 295.5,2059.1 296.4,2064.6 297.3,2065.8 298.2,2070.7 299.1,2070.1 300.0,2071.4 300.9,2071.1 301.8,2071.9 302.7,2074.0 303.6,2074.9 304.5,2075.1 305.4,2076.0 306.3,2075.7 307.2,2075.1 308.1,2076.4 309.0,2076.4 309.9,2075.7 310.8,2076.9 311.7,2077.8 312.6,2076.6 313.5,2076.0 314.4,2077.5 315.3,2079.1 316.2,2076.5 317.1,2076.8 317.9,2076.9 318.8,2078.7 319.7,2074.9 320.6,2077.8 321.5,2078.9 322.4,2076.4 323.3,2079.5 324.2,2078.3 325.1,2077.0 326.0,2078.0 326.9,2075.8 327.8,2077.1 328.7,2080.3 329.6,2076.8 330.5,2080.4 331.4,2078.0 332.3,2079.4 333.2,2078.2 334.1,2075.3 335.0,2077.5 335.9,2078.6 336.8,2076.9 337.7,2076.7 338.6,2079.0 339.5,2077.7 340.4,2076.4 341.3,2077.7 342.2,2079.8 343.1,2078.1 344.0,2079.9 344.9,2080.7 345.8,2078.8 346.7,2077.3 347.6,2077.1 348.5,2078.8 349.4,2079.9 350.3,2079.1 351.2,2079.5 352.1,2078.2 353.0,2079.0 353.9,2078.0 354.8,2078.0 355.7,2076.7 356.6,2076.2 357.5,2077.5 358.4,2076.5 359.3,2076.6 360.2,2078.5 361.1,2077.4 362.0,2081.2 362.9,2078.5 363.8,2076.4 364.7,2078.1 365.6,2077.5 366.5,2076.1 367.4,2078.4 368.3,2076.0 369.2,2073.1 370.1,2078.2 371.0,2076.5 371.9,2079.4 372.8,2076.8 373.7,2076.4 374.6,2080.0 375.5,2077.0 376.4,2078.8 377.3,2080.6 378.2,2079.2 379.1,2079.2 380.0,2079.6 380.9,2080.8 381.8,2079.0 382.7,2081.0 383.6,2081.3 384.5,2083.8 385.4,2080.9 386.3,2080.5 387.2,2082.9 388.1,2081.8 389.0,2083.0 389.9,2083.1 390.8,2084.6 391.7,2082.6 392.6,2083.5 393.5,2080.4 394.4,2082.6 395.3,2085.8 396.2,2082.8 397.1,2082.7 398.0,2081.8 398.9,2083.7 399.8,2082.8 400.7,2080.7 401.6,2082.6 402.5,2081.6 403.4,2081.7 404.3,2079.2 405.2,2081.0 406.0,2078.4 406.9,2076.7 407.8,2075.2 408.7,2074.6 409.6,2075.1 410.5,2073.1 411.4,2074.1 412.3,2072.9 413.2,2073.2 414.1,2072.0 415.0,2070.5 415.9,2067.9 416.8,2070.4 417.7,2071.0 418.6,2070.3 419.5,2070.9 420.4,2069.8 421.3,2070.2 422.2,2069.8 423.1,2073.0 424.0,2071.8 424.9,2071.4 425.8,2070.7 426.7,2072.6 427.6,2075.1 428.5,2074.6 429.4,2073.8 430.3,2077.1 431.2,2077.9 432.1,2078.3 433.0,2079.3 433.9,2081.1 434.8,2081.7 435.7,2083.1 436.6,2082.2 437.5,2085.7 438.4,2085.0 439.3,2087.8 440.2,2083.6 441.1,2087.4 442.0,2088.1 442.9,2086.6 443.8,2087.8 444.7,2088.3 445.6,2088.2 446.5,2086.9 447.4,2087.5 448.3,2089.1 449.2,2089.5 450.1,2088.1 451.0,2088.1 451.9,2088.3 452.8,2089.3 453.7,2086.5 454.6,2085.9 455.5,2087.4 456.4,2085.4 457.3,2085.4 458.2,2085.6 459.1,2085.3 460.0,2082.2 460.9,2082.2 461.8,2077.4 462.7,2077.6 463.6,2073.0 464.5,2070.9 465.4,2071.5 466.3,2069.3 467.2,2068.6 468.1,2070.5 469.0,2074.0 469.9,2076.1 470.8,2079.5 471.7,2083.9 472.6,2084.4 473.5,2086.0 474.4,2087.2 475.3,2090.3 476.2,2091.0 477.1,2092.2 478.0,2091.1 478.9,2091.1 479.8,2092.5 480.7,2090.9 481.6,2092.6 482.5,2092.5 483.4,2090.7 484.3,2091.6 485.2,2091.5 486.1,2094.0 487.0,2095.1 487.9,2091.7 488.8,2091.8 489.7,2088.9 490.6,2092.1 491.5,2091.9 492.4,2090.5 493.3,2093.0 494.1,2089.9 495.0,2091.7 495.9,2092.2 496.8,2090.5 497.7,2093.2 498.6,2093.5 499.5,2090.4 500.4,2090.4 501.3,2093.0 502.2,2092.2 503.1,2090.7 504.0,2092.0 504.9,2092.2 505.8,2092.2 506.7,2093.5 507.6,2093.0 508.5,2094.8 509.4,2094.3 510.3,2093.5 511.2,2094.0 512.1,2094.4 513.0,2093.6 513.9,2091.1 514.8,2093.9 515.7,2092.9 516.6,2094.9 517.5,2093.0 518.4,2093.6 519.3,2093.4 520.2,2095.2 521.1,2093.3 522.0,2092.8 522.9,2093.6 523.8,2092.7 524.7,2093.5 525.6,2093.3 526.5,2093.8 527.4,2096.0 528.3,2093.0 529.2,2093.7 530.1,2093.5 531.0,2094.6 531.9,2092.3 532.8,2093.0 533.7,2093.9 534.6,2094.8 535.5,2094.1 536.4,2093.5 537.3,2093.1 538.2,2095.0 539.1,2096.2 540.0,2094.8 540.9,2094.7 541.8,2095.0 542.7,2093.3 543.6,2094.1 544.5,2094.2 545.4,2094.9 546.3,2094.4 547.2,2092.9 548.1,2095.9 549.0,2096.5 549.9,2093.9 550.8,2094.7 551.7,2094.4 552.6,2095.0 553.5,2092.0 554.4,2095.6 555.3,2092.6 556.2,2094.0 557.1,2091.8 558.0,2090.5 558.9,2090.3 559.8,2091.1 560.7,2088.4 561.6,2088.6 562.5,2088.2 563.4,2086.7 564.3,2090.9 565.2,2090.7 566.1,2090.9 567.0,2093.1 567.9,2091.0 568.8,2092.5 569.7,2095.1 570.6,2094.5 571.5,2090.8 572.4,2089.7 573.3,2092.8 574.2,2095.7 575.1,2093.9 576.0,2094.4 576.9,2095.6 577.8,2093.8 578.7,2095.3 579.6,2096.2 580.5,2095.9 581.4,2095.9 582.2,2094.7 583.1,2096.3 584.0,2095.1 584.9,2097.5 585.8,2099.2 586.7,2095.0 587.6,2093.2 588.5,2095.5 589.4,2096.6 590.3,2097.5 591.2,2097.6 592.1,2095.2 593.0,2095.2 593.9,2097.9 594.8,2094.9 595.7,2097.7 596.6,2096.0 597.5,2097.3 598.4,2097.2 599.3,2097.3 600.2,2097.4 601.1,2095.0 602.0,2096.7 602.9,2096.3 603.8,2096.7 604.7,2097.9 605.6,2095.9 606.5,2095.4 607.4,2095.4 608.3,2095.9 609.2,2097.3 610.1,2095.2 611.0,2097.8 611.9,2096.7 612.8,2096.0 613.7,2094.6 614.6,2096.6 615.5,2097.2 616.4,2094.0 617.3,2097.8 618.2,2098.4 619.1,2096.7 620.0,2096.9 620.9,2099.4 621.8,2097.8 622.7,2095.0 623.6,2096.1 624.5,2095.9 625.4,2095.8 626.3,2092.8 627.2,2096.7 628.1,2094.8 629.0,2095.8 629.9,2095.3 630.8,2096.5 631.7,2094.9 632.6,2094.1 633.5,2095.8 634.4,2096.8 635.3,2094.6 636.2,2096.7 637.1,2095.3 638.0,2094.2 638.9,2096.9 639.8,2093.8 640.7,2096.2 641.6,2094.2 642.5,2095.4 643.4,2093.2 644.3,2093.7 645.2,2096.2 646.1,2095.0 647.0,2094.8 647.9,2094.1 648.8,2095.3 649.7,2092.8 650.6,2093.2 651.5,2094.4 652.4,2093.4 653.3,2093.4 654.2,2093.5 655.1,2092.5 656.0,2091.4 656.9,2092.6 657.8,2090.9 658.7,2090.2 659.6,2087.7 660.5,2086.1 661.4,2084.2 662.3,2085.1 663.2,2083.4 664.1,2086.6 665.0,2089.9 665.9,2092.5 666.8,2092.9 667.7,2091.7 668.6,2094.1 669.5,2093.3 670.3,2095.7 671.2,2094.9 672.1,2096.2 673.0,2098.5 673.9,2096.5 674.8,2098.4 675.7,2095.7 676.6,2095.1 677.5,2097.4 678.4,2097.9 679.3,2095.1 680.2,2095.9 681.1,2094.1 682.0,2095.7 682.9,2097.2 683.8,2095.9 684.7,2095.4 685.6,2094.3 686.5,2096.6 687.4,2097.2 688.3,2097.0 689.2,2096.6 690.1,2094.6 691.0,2098.6 691.9,2096.2 692.8,2096.1 693.7,2097.2 694.6,2093.5 695.5,2096.2 696.4,2096.1 697.3,2096.8 698.2,2098.0 699.1,2096.8 700.0,2093.8 700.9,2095.7 701.8,2096.4 702.7,2096.2 703.6,2094.3 704.5,2093.8 705.4,2096.5 706.3,2096.2 707.2,2095.6 708.1,2093.3 709.0,2097.7 709.9,2091.6 710.8,2094.8 711.7,2097.8 712.6,2094.8 713.5,2095.2 714.4,2093.2 715.3,2096.3 716.2,2092.8 717.1,2094.6 718.0,2094.3 718.9,2092.7 719.8,2095.0 720.7,2091.9 721.6,2092.5 722.5,2093.0 723.4,2092.2 724.3,2092.8 725.2,2092.9 726.1,2090.9 727.0,2090.1 727.9,2089.6 728.8,2089.1 729.7,2089.6 730.6,2087.5 731.5,2087.7 732.4,2086.8 733.3,2085.7 734.2,2087.7 735.1,2085.2 736.0,2086.4 736.9,2088.3 737.8,2085.0 738.7,2087.3 739.6,2088.7 740.5,2091.6 741.4,2091.9 742.3,2094.2 743.2,2094.3 744.1,2095.3 745.0,2097.3 745.9,2095.7 746.8,2096.3 747.7,2095.5 748.6,2095.3 749.5,2094.7 750.4,2093.5 751.3,2096.0 752.2,2098.0 753.1,2096.6 754.0,2095.4 754.9,2098.2 755.8,2095.6 756.7,2095.4 757.6,2094.6 758.5,2095.0 759.3,2095.9 760.2,2098.9 761.1,2096.0 762.0,2094.9 762.9,2095.5 763.8,2096.0 764.7,2094.1 765.6,2096.5 766.5,2097.2 767.4,2096.6 768.3,2096.9 769.2,2094.4 770.1,2093.8 771.0,2097.5 771.9,2097.1 772.8,2093.6 773.7,2095.6 774.6,2095.2 775.5,2095.7 776.4,2095.1 777.3,2094.0 778.2,2094.7 779.1,2094.4 780.0,2094.0 780.9,2091.5 781.8,2089.8 782.7,2092.4 783.6,2091.2 784.5,2093.4 785.4,2093.8 786.3,2093.1 787.2,2092.1 788.1,2092.4 789.0,2093.5 789.9,2090.9 790.8,2092.7 791.7,2092.2 792.6,2091.5 793.5,2092.8 794.4,2089.9 795.3,2091.9 796.2,2089.4 797.1,2089.5 798.0,2089.1 798.9,2091.2 799.8,2089.5 800.7,2090.9 801.6,2089.6 802.5,2092.6" fill="none" stroke="#000" stroke-width="3.1" stroke-linejoin="round" stroke-linecap="round"/>
<rect x="66.5" y="1520.9" width="736.9" height="593.1" fill="none" stroke="#000" stroke-width="2.4"/>
<line x1="171.8" y1="2114.0" x2="171.8" y2="2103.2" stroke="#000" stroke-width="2.2"/>
<line x1="277.0" y1="2114.0" x2="277.0" y2="2103.2" stroke="#000" stroke-width="2.2"/>
<line x1="382.3" y1="2114.0" x2="382.3" y2="2103.2" stroke="#000" stroke-width="2.2"/>
<line x1="487.6" y1="2114.0" x2="487.6" y2="2103.2" stroke="#000" stroke-width="2.2"/>
<line x1="592.9" y1="2114.0" x2="592.9" y2="2103.2" stroke="#000" stroke-width="2.2"/>
<line x1="698.1" y1="2114.0" x2="698.1" y2="2103.2" stroke="#000" stroke-width="2.2"/>
<line x1="119.1" y1="2114.0" x2="119.1" y2="2108.8" stroke="#000" stroke-width="2.2"/>
<line x1="224.4" y1="2114.0" x2="224.4" y2="2108.8" stroke="#000" stroke-width="2.2"/>
<line x1="329.7" y1="2114.0" x2="329.7" y2="2108.8" stroke="#000" stroke-width="2.2"/>
<line x1="434.9" y1="2114.0" x2="434.9" y2="2108.8" stroke="#000" stroke-width="2.2"/>
<line x1="540.2" y1="2114.0" x2="540.2" y2="2108.8" stroke="#000" stroke-width="2.2"/>
<line x1="645.5" y1="2114.0" x2="645.5" y2="2108.8" stroke="#000" stroke-width="2.2"/>
<line x1="750.8" y1="2114.0" x2="750.8" y2="2108.8" stroke="#000" stroke-width="2.2"/>
<text x="66.5" y="2156.1" font-size="37" text-anchor="middle">30</text>
<text x="171.8" y="2156.1" font-size="37" text-anchor="middle">35</text>
<text x="277.0" y="2156.1" font-size="37" text-anchor="middle">40</text>
<text x="382.3" y="2156.1" font-size="37" text-anchor="middle">45</text>
<text x="487.6" y="2156.1" font-size="37" text-anchor="middle">50</text>
<text x="592.9" y="2156.1" font-size="37" text-anchor="middle">55</text>
<text x="698.1" y="2156.1" font-size="37" text-anchor="middle">60</text>
<text x="803.4" y="2156.1" font-size="37" text-anchor="middle">65</text>
<text x="435" y="2210.5" font-size="46" text-anchor="middle">2 theta (degrees)</text>
<text transform="translate(37,1804.1) rotate(-90)" font-size="46.5" text-anchor="middle">Intensity (a.u.)</text>
<text x="78.5" y="1579.7" font-size="60.6" letter-spacing="1.4">(c)</text>
<text transform="translate(708.9,1547.7) scale(1.120,1)" font-size="18.4" fill="#828282">o</text>
<text x="725.5" y="1553.3" font-size="31" fill="#828282">Pt</text>
<text transform="translate(709.6,1581.2) scale(1.072,1)" font-size="16.9" fill="#e8150a" stroke="#e8150a" stroke-width="0.4">#</text>
<text x="723.7" y="1584.4" font-size="31" fill="#e8150a">CuO</text>
<text transform="translate(710.8,1614.5) scale(1.000,1)" font-size="25.3" fill="#40e0b0">*</text>
<text x="727.0" y="1616.8" font-size="31" fill="#40e0b0">ZnO</text>
<text transform="translate(128.9,1994.0) rotate(-90)" font-size="26.5" textLength="61.6" lengthAdjust="spacing" fill="#e8150a">(110)</text>
<text transform="translate(115.4,2013.2) scale(1.013,1)" font-size="17.5" fill="#e3198c" stroke="#e3198c" stroke-width="0.4">#</text>
<text transform="translate(164.9,1982.0) rotate(-90)" font-size="26.5" textLength="61.4" lengthAdjust="spacing" fill="#40e0b0">(002)</text>
<text transform="translate(150.9,2002.5) scale(1.000,1)" font-size="22.9" fill="#40e0b0">*</text>
<text transform="translate(193.2,1897.8) rotate(-90)" font-size="26.5" textLength="72.2" lengthAdjust="spacing" fill="#e8150a">(11-1)</text>
<text transform="translate(180.1,1914.7) scale(1.160,1)" font-size="17.9" fill="#e8150a" stroke="#e8150a" stroke-width="0.4">#</text>
<text transform="translate(251.1,1797.8) rotate(-90)" font-size="26.5" textLength="61.2" lengthAdjust="spacing" fill="#e8150a">(111)</text>
<text transform="translate(237.5,1816.5) scale(1.079,1)" font-size="18.4" fill="#e8150a" stroke="#e8150a" stroke-width="0.4">#</text>
<text transform="translate(265.9,1888.5) rotate(-90)" font-size="26.5" textLength="61.9" lengthAdjust="spacing" fill="#e8150a">(200)</text>
<text transform="translate(251.6,1906.6) scale(1.164,1)" font-size="17.0" fill="#e8150a" stroke="#e8150a" stroke-width="0.4">#</text>
<text transform="translate(282.1,1631.0) rotate(-90)" font-size="26.5" textLength="63.0" lengthAdjust="spacing" fill="#828282">(111)</text>
<text transform="translate(266.7,1645.7) scale(1.065,1)" font-size="20.5" fill="#828282">o</text>
<text transform="translate(424.9,2039.0) rotate(-90)" font-size="26.5" textLength="60.9" lengthAdjust="spacing" fill="#828282">(200)</text>
<text transform="translate(411.6,2054.8) scale(1.047,1)" font-size="20.4" fill="#828282">o</text>
<text transform="translate(474.4,2036.5) rotate(-90)" font-size="26.5" textLength="70.9" lengthAdjust="spacing" fill="#e8150a">(20-2)</text>
<text transform="translate(460.9,2054.0) scale(1.092,1)" font-size="17.6" fill="#e8150a" stroke="#e8150a" stroke-width="0.4">#</text>
<text transform="translate(572.0,2052.8) rotate(-90)" font-size="26.5" textLength="61.2" lengthAdjust="spacing" fill="#e8150a">(020)</text>
<text transform="translate(558.4,2072.0) scale(1.092,1)" font-size="17.6" fill="#e8150a" stroke="#e8150a" stroke-width="0.4">#</text>
<text transform="translate(670.0,2051.5) rotate(-90)" font-size="26.5" textLength="61.6" lengthAdjust="spacing" fill="#e8150a">(202)</text>
<text transform="translate(656.6,2070.7) scale(1.101,1)" font-size="17.5" fill="#e8150a" stroke="#e8150a" stroke-width="0.4">#</text>
<text transform="translate(742.5,2050.3) rotate(-90)" font-size="26.5" textLength="71.7" lengthAdjust="spacing" fill="#e8150a">(11-3)</text>
<text transform="translate(729.6,2069.0) scale(1.147,1)" font-size="17.6" fill="#e8150a" stroke="#e8150a" stroke-width="0.4">#</text>
</svg>
</body></html>
